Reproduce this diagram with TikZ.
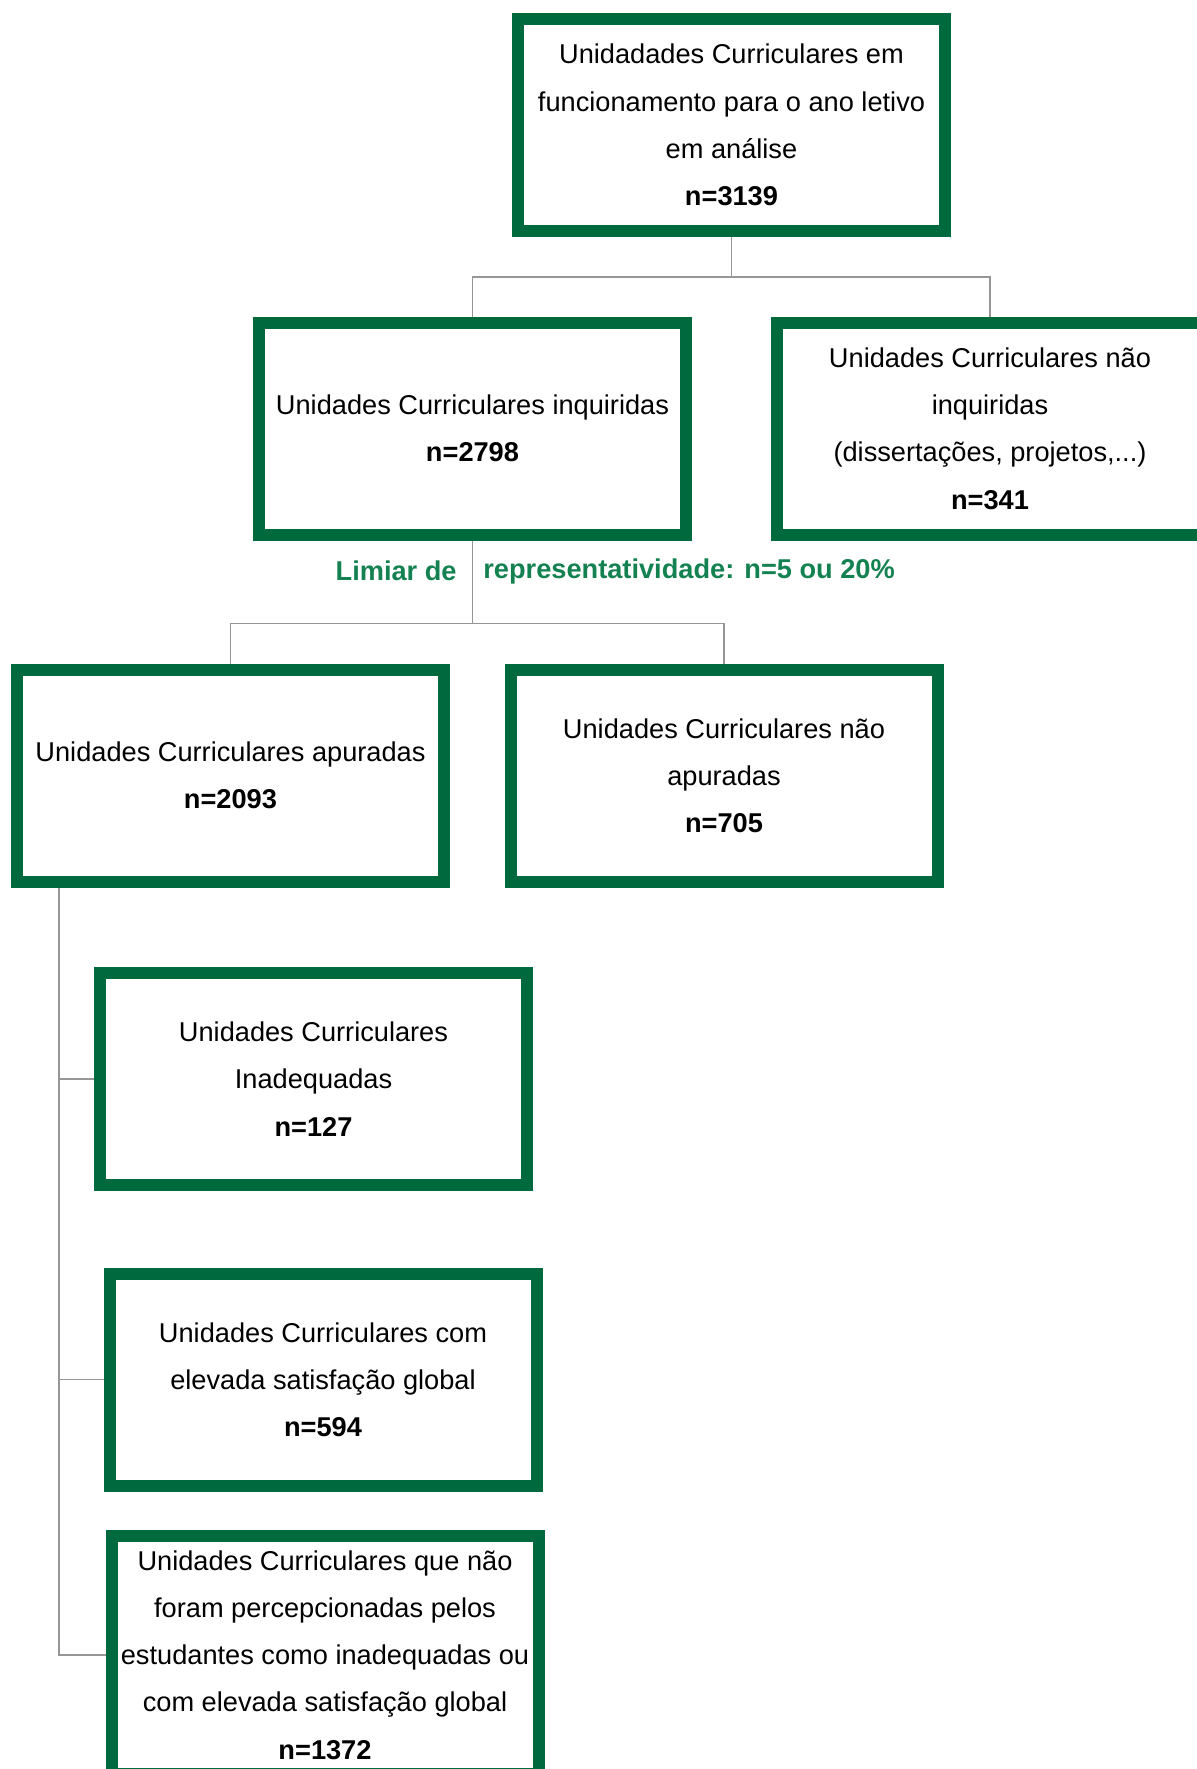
\documentclass[tikz,border=0pt]{standalone}
\usepackage{fontspec}
\setmainfont{Liberation Sans}
\definecolor{verdeuc}{RGB}{0,106,62}
\definecolor{verdetxt}{RGB}{20,130,80}
\definecolor{cinza}{RGB}{150,150,150}
\begin{document}
\begin{tikzpicture}[x=0.5pt,y=-0.5pt,
  ucbox/.style={draw=verdeuc,line width=6pt,minimum width=213.5pt,minimum height=106pt,
    align=center,inner sep=0pt,font=\fontsize{13.6}{23.6}\selectfont},
  ligacao/.style={draw=cinza,line width=0.9pt},
  limiar/.style={text=verdetxt,font=\bfseries\fontsize{13.6}{16}\selectfont,inner sep=1pt}]
  \clip (0,0) rectangle (1197,1769);
  % caixas
  \node[ucbox] (total) at (731.5,125)
    {Unidadades Curriculares em\\funcionamento para o ano letivo\\em análise\\\textbf{n=3139}};
  \node[ucbox] (inq) at (472.5,428.5)
    {Unidades Curriculares inquiridas\\\textbf{n=2798}};
  \node[ucbox] (naoinq) at (990,428.5)
    {Unidades Curriculares não\\inquiridas\\(dissertações, projetos,...)\\\textbf{n=341}};
  \node[ucbox] (apur) at (230.5,775.5)
    {Unidades Curriculares apuradas\\\textbf{n=2093}};
  \node[ucbox] (naoapur) at (724,775.5)
    {Unidades Curriculares não\\apuradas\\\textbf{n=705}};
  \node[ucbox] (inad) at (313.5,1079)
    {Unidades Curriculares\\Inadequadas\\\textbf{n=127}};
  \node[ucbox] (elev) at (323,1379.5)
    {Unidades Curriculares com\\elevada satisfação global\\\textbf{n=594}};
  \node[ucbox,minimum height=119pt] (outras) at (325,1655)
    {Unidades Curriculares que não\\foram percepcionadas pelos\\estudantes como inadequadas ou\\com elevada satisfação global\\\textbf{n=1372}};
  % ligacoes
  \draw[ligacao] (total.south) -- ++(0,40) -| (inq.north);
  \draw[ligacao] (total.south) -- ++(0,40) -| (naoinq.north);
  \draw[ligacao] (inq.south) -- ++(0,83) -| (apur.north);
  \draw[ligacao] (inq.south) -- ++(0,83) -| (naoapur.north);
  \coordinate (tronco) at ([xshift=24pt]apur.south west);
  \foreach \uc in {inad,elev,outras}
    \draw[ligacao] (tronco) |- (\uc.west);
  % limiar
  \node[limiar,anchor=base east] (limiar) at (459,580) {Limiar de};
  \node[limiar,anchor=base west] (repres) at (481,578) {representatividade: n=5 ou 20\%};
\end{tikzpicture}
\end{document}
